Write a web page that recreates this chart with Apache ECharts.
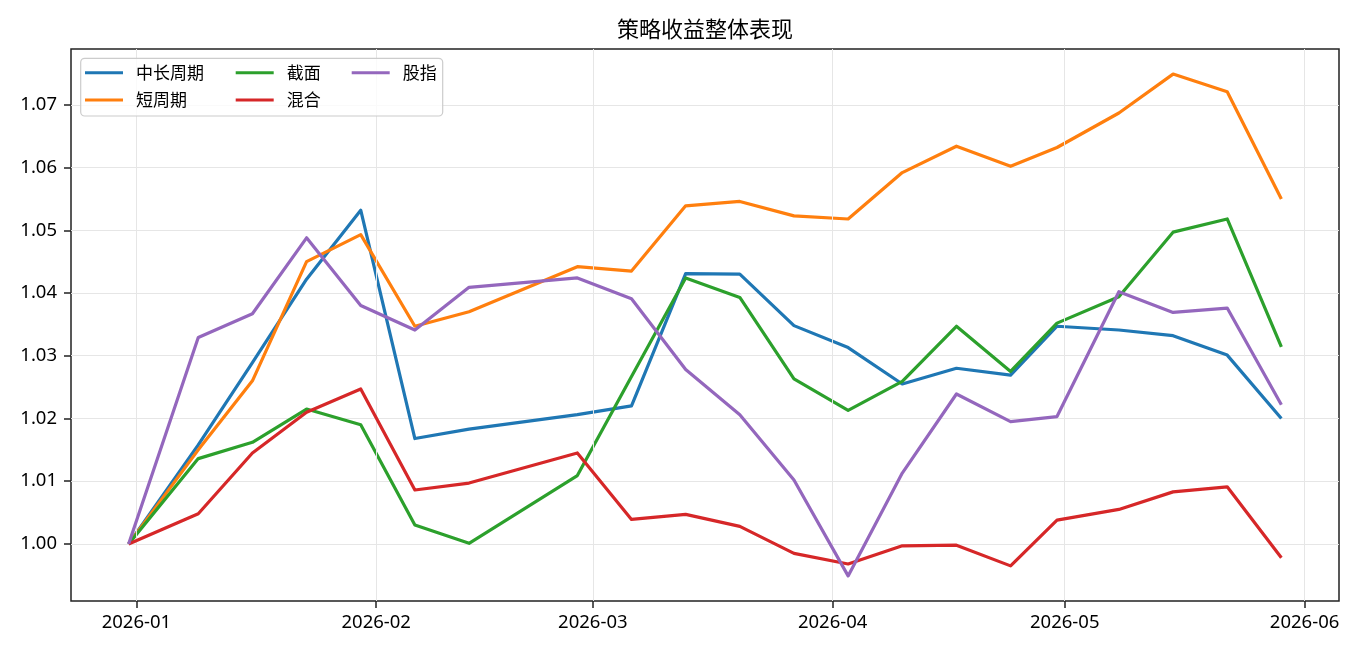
<!DOCTYPE html>
<html>
<head>
<meta charset="utf-8">
<script src="https://cdn.jsdelivr.net/npm/echarts@6/dist/echarts.min.js"></script>
<style>
html, body { margin: 0; padding: 0; background: #fff; }
#chart { width: 1368px; height: 657px; }
</style>
</head>
<body>
<div id="chart"></div>
<script>
// weekly dates (no point in the holiday week)
const dates = ['2025-12-31', '2026-01-09', '2026-01-16', '2026-01-23', '2026-01-30', '2026-02-06',
    '2026-02-13', '2026-02-27', '2026-03-06', '2026-03-13', '2026-03-20', '2026-03-27', '2026-04-03',
    '2026-04-10', '2026-04-17', '2026-04-24', '2026-04-30', '2026-05-08', '2026-05-15', '2026-05-22',
    '2026-05-29'];
const midLong = [1.0000, 1.0158, 1.0289, 1.0422, 1.0532, 1.0168, 1.0183, 1.0206, 1.0220, 1.0431, 1.0430,
    1.0348, 1.0313, 1.0255, 1.0280, 1.0269, 1.0347, 1.0341, 1.0332, 1.0301, 1.0200];
const shortCycle = [1.0000, 1.0150, 1.0260, 1.0450, 1.0493, 1.0347, 1.0370, 1.0442, 1.0435, 1.0539, 1.0546,
    1.0523, 1.0518, 1.0592, 1.0634, 1.0602, 1.0632, 1.0687, 1.0749, 1.0721, 1.0550];
const crossSection = [1.0000, 1.0136, 1.0162, 1.0215, 1.0190, 1.0030, 1.0001, 1.0109, 1.0267, 1.0424, 1.0393,
    1.0263, 1.0213, 1.0259, 1.0347, 1.0275, 1.0352, 1.0394, 1.0497, 1.0518, 1.0314];
const mixed = [1.0000, 1.0048, 1.0145, 1.0210, 1.0247, 1.0086, 1.0097, 1.0145, 1.0039, 1.0047, 1.0028,
    0.9985, 0.9968, 0.9997, 0.9998, 0.9965, 1.0038, 1.0055, 1.0083, 1.0091, 0.9978];
const indexFut = [1.0000, 1.0329, 1.0367, 1.0488, 1.0380, 1.0341, 1.0409, 1.0424, 1.0391, 1.0278, 1.0206,
    1.0102, 0.9949, 1.0113, 1.0239, 1.0195, 1.0203, 1.0402, 1.0369, 1.0376, 1.0222];

const seriesNames = ['中长周期', '短周期', '截面', '混合', '股指'];
const seriesValues = [midLong, shortCycle, crossSection, mixed, indexFut];
const monthTicks = ['2026-01-01', '2026-02-01', '2026-03-01', '2026-04-01', '2026-05-01', '2026-06-01'];
const yTicks = [1.00, 1.01, 1.02, 1.03, 1.04, 1.05, 1.06, 1.07];

const colors = ['#1f77b4', '#ff7f0e', '#2ca02c', '#d62728', '#9467bd'];

function toTime(s) {
    const [y, m, d] = s.split('-').map(Number);
    return new Date(y, m - 1, d).getTime();
}

const times = dates.map(toTime);
const monthTimes = monthTicks.map(toTime);
const tMin = times[0], tMax = times[times.length - 1];
const tPad = (tMax - tMin) * 0.05;

const allVals = [].concat(...seriesValues);
const vMin = Math.min(...allVals), vMax = Math.max(...allVals);
const vPad = (vMax - vMin) * 0.05;

const axisColor = '#222';
const gridColor = '#e6e6e6';

const series = seriesNames.map((name, i) => ({
    name: name,
    type: 'line',
    data: times.map((t, j) => [t, seriesValues[i][j]]),
    showSymbol: false,
    symbol: 'none',
    lineStyle: {width: 3.2, color: colors[i], join: 'round'},
    itemStyle: {color: colors[i]},
    z: 2 + i,
}));

// vertical grid lines at month starts
series.unshift({
    name: 'xgrid',
    type: 'line',
    data: [],
    z: 1,
    markLine: {
        silent: true,
        symbol: 'none',
        label: {show: false},
        lineStyle: {color: gridColor, width: 1, type: 'solid'},
        data: monthTimes.map(t => ({xAxis: t})),
    },
});

function legendCol(left, names) {
    return {
        data: names,
        orient: 'vertical',
        left: left,
        top: 62.7,
        padding: 0,
        itemGap: 7.3,
        itemWidth: 38,
        itemHeight: 3,
        icon: 'rect',
        selectedMode: false,
        z: 110,
        textStyle: {
            fontFamily: 'Noto Sans CJK SC',
            fontSize: 17,
            color: '#000',
            lineHeight: 20,
            padding: [0, 0, 0, 8],
        },
    };
}

const chart = echarts.init(document.getElementById('chart'));
chart.setOption({
    animation: false,
    color: colors,
    title: {
        text: '策略收益整体表现',
        left: 700,
        top: 13,
        textAlign: 'center',
        textStyle: {
            fontFamily: 'Noto Sans CJK SC',
            fontSize: 22,
            fontWeight: 'normal',
            color: '#000',
        },
    },
    grid: {
        left: 71,
        right: 29,
        top: 49,
        bottom: 56,
        show: true,
        borderColor: axisColor,
        borderWidth: 1.5,
        backgroundColor: 'transparent',
    },
    legend: [
        legendCol(85, ['中长周期', '短周期']),
        legendCol(235.7, ['截面', '混合']),
        legendCol(351.7, ['股指']),
    ],
    graphic: [{
        type: 'rect',
        z: 100,
        shape: {x: 80.7, y: 58.3, width: 362, height: 57.7, r: 4},
        style: {fill: 'rgba(255,255,255,0.8)', stroke: '#cccccc', lineWidth: 1.2},
    }],
    xAxis: {
        type: 'value',
        min: tMin - tPad,
        max: tMax + tPad,
        axisLine: {show: false},
        axisTick: {
            show: true,
            length: 7,
            customValues: monthTimes,
            lineStyle: {color: axisColor, width: 1.5},
        },
        axisLabel: {
            customValues: monthTimes,
            margin: 12,
            fontFamily: 'Noto Sans',
            fontSize: 18.5,
            color: '#000',
            formatter: function (v) {
                const d = new Date(v);
                return d.getFullYear() + '-' + String(d.getMonth() + 1).padStart(2, '0');
            },
        },
        splitLine: {show: false},
    },
    yAxis: {
        type: 'value',
        min: vMin - vPad,
        max: vMax + vPad,
        splitNumber: 9,
        axisLine: {show: false},
        axisTick: {
            show: true,
            length: 7,
            customValues: yTicks,
            lineStyle: {color: axisColor, width: 1.5},
        },
        axisLabel: {
            customValues: yTicks,
            margin: 14,
            fontFamily: 'Noto Sans',
            fontSize: 18.5,
            color: '#000',
            formatter: v => v.toFixed(2),
        },
        splitLine: {show: true, lineStyle: {color: gridColor, width: 1}},
    },
    series: series,
});
</script>
</body>
</html>
